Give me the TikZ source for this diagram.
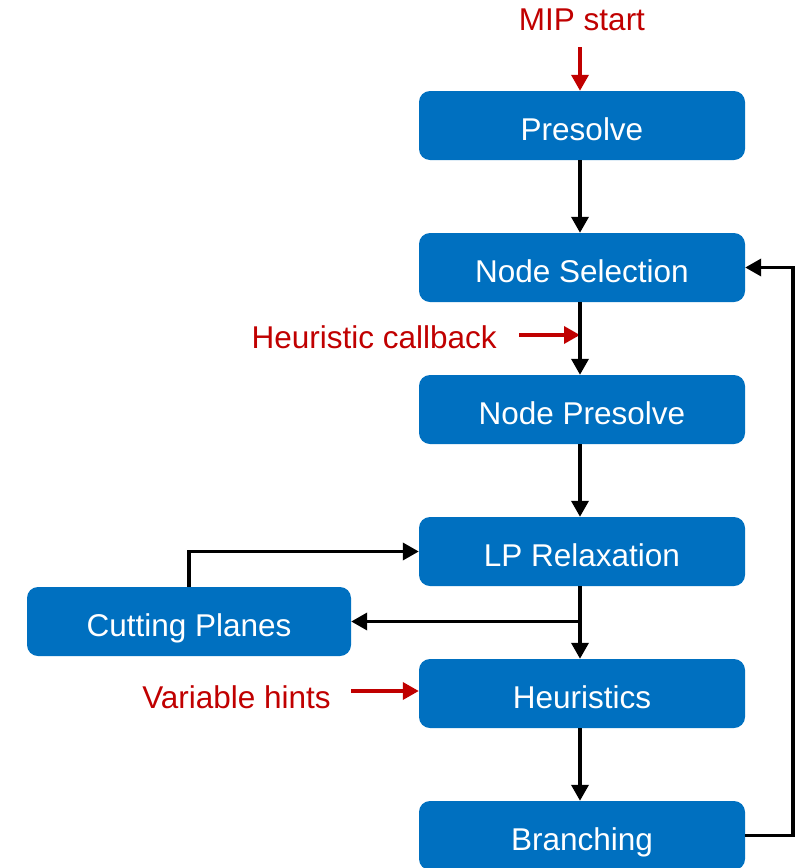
\documentclass[tikz,border=0pt]{standalone}
\usepackage{fontspec}
\setmainfont{Liberation Sans}
\usetikzlibrary{arrows.meta}
\definecolor{boxblue}{HTML}{0070C0}
\definecolor{hintred}{HTML}{C00000}
\begin{document}
\begin{tikzpicture}[x=1pt,y=-1pt,
  stagebox/.style={fill=boxblue, rounded corners=11pt, minimum width=326pt, minimum height=69pt,
    inner sep=0pt, text=white, font=\fontsize{31.5}{36}\selectfont, text height=29.7pt, text depth=0pt},
  flow/.style={line width=3.5pt, -{Triangle[length=16pt,width=17pt]}},
  hint/.style={line width=3.5pt, hintred, -{Triangle[length=16pt,width=17pt]}},
  hinttext/.style={text=hintred, font=\fontsize{31.5}{36}\selectfont, inner sep=0pt}]
\useasboundingbox (0,0) rectangle (808,868);

\node[stagebox] (pre) at (582,125.5) {Presolve};
\node[stagebox] (sel) at (582,267.5) {Node Selection};
\node[stagebox] (npre) at (582,409.5) {Node Presolve};
\node[stagebox] (lp) at (582,551.5) {LP Relaxation};
\node[stagebox] (heu) at (582,693.5) {Heuristics};
\node[stagebox] (br) at (582,835.5) {Branching};
\node[stagebox, minimum width=324pt] (cut) at (189,621.5) {Cutting Planes};

% red entry points
\node[hinttext] (mip) at (582,20) {MIP start};
\coordinate (mipa) at (580,47);
\draw[hint] (mipa) -- (pre.north -| mipa);

\node[hinttext, anchor=east] (hcb) at (497,337) {Heuristic callback};
\coordinate (hcba) at (519,335);
\coordinate (hcbb) at (580,335);
\draw[hint] (hcba) -- (hcbb);

\node[hinttext, anchor=east] (vh) at (331,697) {Variable hints};
\coordinate (vha) at (351,691);
\draw[hint] (vha) -- (heu.west |- vha);

% main flow
\coordinate (spine) at (580,0);
\draw[flow] (pre.south -| spine) -- (sel.north -| spine);
\draw[flow] (sel.south -| spine) -- (npre.north -| spine);
\draw[flow] (npre.south -| spine) -- (lp.north -| spine);
\draw[flow] (lp.south -| spine) -- (heu.north -| spine);
\draw[flow] (heu.south -| spine) -- (br.north -| spine);

% cutting-plane loop
\coordinate (split) at (580,621.5);
\draw[flow] (split) -- (cut.east);
\draw[flow] (cut.north) |- (lp.west);

% back to node selection
\coordinate (ret) at (793,0);
\draw[flow] (br.east) -| (ret |- sel.east) -- (sel.east);
\end{tikzpicture}
\end{document}
